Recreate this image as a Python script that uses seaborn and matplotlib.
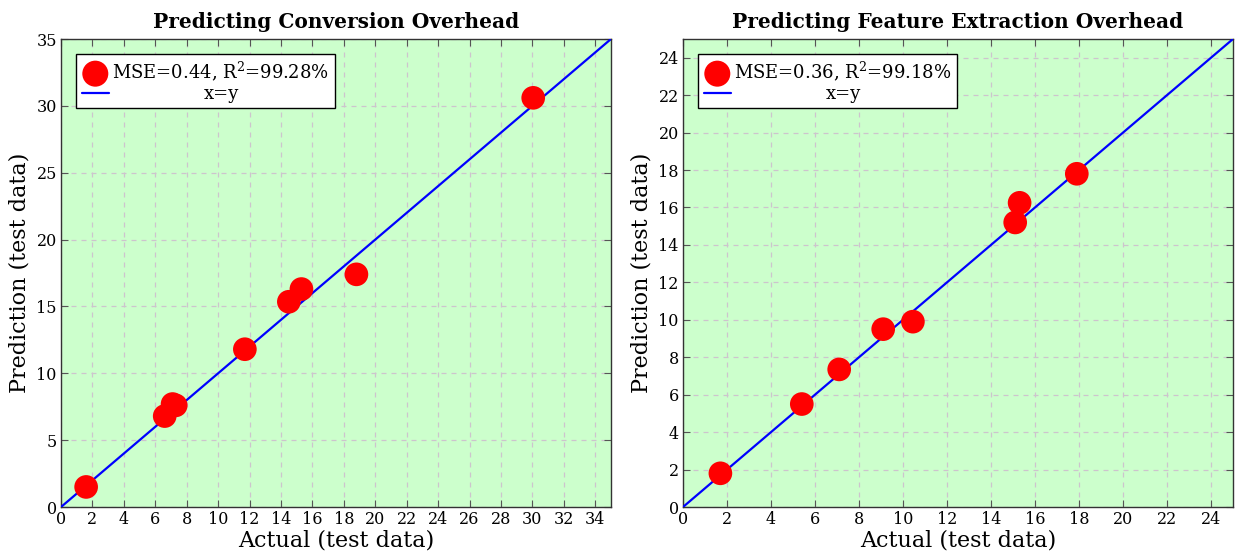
import matplotlib
matplotlib.use("Agg")
import matplotlib.pyplot as plt
import seaborn as sns
import pandas as pd

# ---- data ----
conv_actual = [1.6, 6.6, 7.1, 7.3, 11.7, 14.5, 15.3, 18.8, 30.05]
conv_pred = [1.5, 6.8, 7.7, 7.6, 11.8, 15.35, 16.3, 17.4, 30.6]
feat_actual = [1.7, 5.4, 7.1, 9.1, 10.45, 15.1, 15.3, 17.9]
feat_pred = [1.8, 5.5, 7.35, 9.5, 9.9, 15.2, 16.25, 17.8]

titles = ["Predicting Conversion Overhead", "Predicting Feature Extraction Overhead"]
legend_labels = ["MSE=0.44, R$^2$=99.28%", "MSE=0.36, R$^2$=99.18%"]
limits = [35, 25]
xticks_step = [2, 2]
yticks_step = [5, 2]

sns.set_theme(style="ticks")
plt.rcParams['font.family'] = ['DejaVu Serif']
plt.rcParams['mathtext.fontset'] = 'dejavuserif'
plt.rcParams['text.color'] = 'black'
plt.rcParams['axes.labelcolor'] = 'black'
plt.rcParams['xtick.labelcolor'] = 'black'
plt.rcParams['ytick.labelcolor'] = 'black'

fig = plt.figure(figsize=(12.37, 5.54), dpi=100)
axes = [fig.add_axes([61/1237, 47/554, 550/1237, 468/554]),
        fig.add_axes([683/1237, 47/554, 550/1237, 468/554])]

datasets = [(conv_actual, conv_pred), (feat_actual, feat_pred)]
legends = []
for i, ax in enumerate(axes):
    a, p = datasets[i]
    lim = limits[i]
    ax.set_facecolor('#ccffcc')
    df = pd.DataFrame({"actual": a, "pred": p})
    ident = pd.DataFrame({"x": [0, lim], "y": [0, lim]})
    sns.scatterplot(data=df, x="actual", y="pred", ax=ax, s=290, color='#ff0000',
                    edgecolor='none', zorder=4, label=legend_labels[i])
    sns.lineplot(data=ident, x="x", y="y", ax=ax, color='#0000ff', lw=1.6,
                 zorder=3, label="x=y")
    ax.set_xlim(0, lim)
    ax.set_ylim(0, lim)
    ax.set_xticks(range(0, lim + 1, xticks_step[i]))
    ax.set_yticks(range(0, lim + 1, yticks_step[i]))
    ax.grid(True, ls=(0, (4, 4)), color='#cdc4cd', lw=0.9, zorder=0)
    ax.set_axisbelow(True)
    ax.tick_params(direction='in', top=True, right=True, length=5, width=0.8,
                   color='#555555', labelcolor='black', labelsize=11.5, pad=3)
    for s in ax.spines.values():
        s.set_color('#333333')
        s.set_linewidth(1.0)
    ax.set_xlabel("Actual (test data)", fontsize=16, labelpad=1, color='black')
    ax.set_ylabel("Prediction (test data)", fontsize=16, labelpad=4, color='black')
    ax.set_title(titles[i], fontsize=14.5, fontweight='bold', pad=8, color='black')
    leg = ax.legend(loc='upper left', fontsize=13, frameon=True, fancybox=False,
                    edgecolor='black', framealpha=1, borderpad=0.3,
                    handletextpad=0.2, handlelength=1.5, labelspacing=0.1,
                    borderaxespad=0.85, markerscale=1.1)
    leg.get_frame().set_linewidth(1.0)
    for t in leg.get_texts():
        t.set_color('black')
    legends.append(leg)

# center the "x=y" entry text within the legend column
fig.canvas.draw()
r = fig.canvas.get_renderer()
for leg in legends:
    t0, t1 = leg.get_texts()
    w0 = t0.get_window_extent(r).width
    w1 = t1.get_window_extent(r).width
    t1.set_x(t1.get_position()[0] + (w0 - w1) / 2)

fig.savefig("out.png", dpi=100)
